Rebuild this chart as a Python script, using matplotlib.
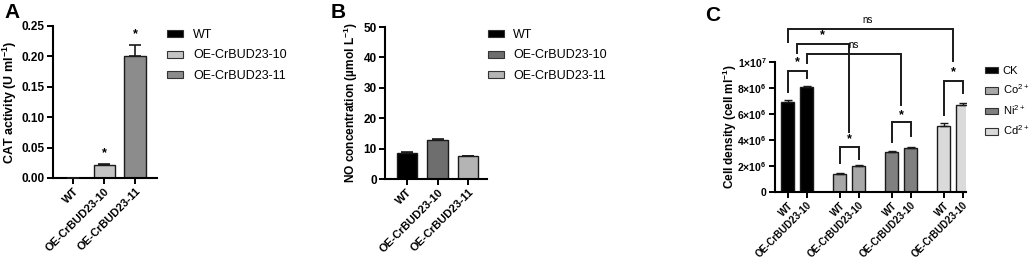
import matplotlib
matplotlib.use("Agg")
import matplotlib.pyplot as plt
import numpy as np
from matplotlib.patches import Patch

plt.rcParams['font.family'] = ['Liberation Sans', 'DejaVu Sans']
plt.rcParams['mathtext.default'] = 'regular'

W, H = 1031, 260

# ---------------- data ----------------
a_labels = ["WT", "OE-CrBUD23-10", "OE-CrBUD23-11"]
a_values = [0.0, 0.021, 0.200]
a_errors = [0.0, 0.0015, 0.018]
a_sig = ["", "*", "*"]

b_labels = ["WT", "OE-CrBUD23-10", "OE-CrBUD23-11"]
b_values = [8.5, 12.8, 7.5]
b_errors = [0.3, 0.3, 0.2]

c_groups = ["CK", "Co$^{2+}$", "Ni$^{2+}$", "Cd$^{2+}$"]
c_lines = ["WT", "OE-CrBUD23-10"]
c_wt = [6.95e6, 1.42e6, 3.08e6, 5.1e6]
c_oe = [8.05e6, 2.0e6, 3.38e6, 6.7e6]
c_wt_err = [0.12e6, 0.08e6, 0.07e6, 0.18e6]
c_oe_err = [0.1e6, 0.1e6, 0.08e6, 0.17e6]
c_ytick_labels = ["0", "2×10$^{6}$", "4×10$^{6}$", "6×10$^{6}$", "8×10$^{6}$", "1×10$^{7}$"]

# significance brackets within each group
pair_top = [9.3e6, 3.44e6, 5.38e6, 8.54e6]
pair_leg_wt = [7.7e6, 2.23e6, 3.85e6, 5.92e6]
pair_leg_oe = [8.77e6, 2.54e6, 4.3e6, 7.6e6]
pair_star = [9.95e6, 4.08e6, 5.92e6, 9.23e6]

a_colors = ["#000000", "#c4c4c4", "#8c8c8c"]
b_colors = ["#000000", "#6e6e6e", "#b4b4b4"]
c_colors = ["#000000", "#a8a8a8", "#808080", "#dadada"]

fig = plt.figure(figsize=(W / 100, H / 100), dpi=100)


def add_axes(left, right, top, bottom):
    return fig.add_axes([left / W, 1 - bottom / H, (right - left) / W, (bottom - top) / H])


def style(ax, yfs, xfs):
    for s in ["top", "right"]:
        ax.spines[s].set_visible(False)
    for s in ["left", "bottom"]:
        ax.spines[s].set_linewidth(1.5)
    ax.tick_params(width=1.4, length=4, pad=2)
    ax.tick_params(axis="y", labelsize=yfs)
    ax.tick_params(axis="x", labelsize=xfs)
    for lab in ax.get_yticklabels() + ax.get_xticklabels():
        lab.set_fontweight("bold")


def legend(ax, colors, labels, x, y, fs, spacing, hl, hh, tp):
    handles = [Patch(facecolor=c, edgecolor="#333333", linewidth=0.8) for c in colors]
    ax.legend(handles, labels, loc="upper left", bbox_to_anchor=(x / W, 1 - y / H),
              bbox_transform=fig.transFigure, frameon=False, fontsize=fs,
              handlelength=hl, handleheight=hh, handletextpad=tp,
              labelspacing=spacing, borderaxespad=0, borderpad=0)


bw = 0.68

# ---------------- Panel A ----------------
axA = add_axes(53, 157, 26, 178)
xa = np.arange(len(a_values))
axA.bar(xa, a_values, width=bw, color=a_colors, edgecolor="#1a1a1a", linewidth=1.0, zorder=2)
axA.errorbar(xa, a_values, yerr=[np.zeros(3), a_errors], fmt="none", ecolor="#1a1a1a",
             elinewidth=1.2, capsize=4.5, capthick=1.2, zorder=3)
for xi, v, e, s in zip(xa, a_values, a_errors, a_sig):
    if s:
        axA.text(xi, v + e + 0.008, s, ha="center", va="bottom", fontsize=9, fontweight="bold")
axA.set_xlim(-0.65, 2.71)
axA.set_ylim(0, 0.25)
axA.set_yticks([0, 0.05, 0.10, 0.15, 0.20, 0.25])
axA.set_yticklabels(["0.00", "0.05", "0.10", "0.15", "0.20", "0.25"])
axA.set_xticks(xa)
axA.set_xticklabels(a_labels, rotation=45, ha="right", rotation_mode="anchor")
axA.set_ylabel("CAT activity (U ml$^{-1}$)", fontsize=9, fontweight="bold")
axA.yaxis.set_label_coords((19 - 53) / 104, 0.5)
style(axA, 8.5, 8)
legend(axA, a_colors, a_labels, 167, 29, 9, 0.68, 1.28, 0.48, 0.8)
fig.text(4 / W, 1 - 3 / H, "A", fontsize=15, fontweight="bold", va="top", ha="left")

# ---------------- Panel B ----------------
axB = add_axes(385, 487, 27, 179)
xb = np.arange(len(b_values))
axB.bar(xb, b_values, width=bw, color=b_colors, edgecolor="#1a1a1a", linewidth=1.0, zorder=2)
axB.errorbar(xb, b_values, yerr=[np.zeros(3), b_errors], fmt="none", ecolor="#1a1a1a",
             elinewidth=1.2, capsize=4.5, capthick=1.2, zorder=3)
axB.set_xlim(-0.72, 2.62)
axB.set_ylim(0, 50)
axB.set_yticks([0, 10, 20, 30, 40, 50])
axB.set_xticks(xb)
axB.set_xticklabels(b_labels, rotation=45, ha="right", rotation_mode="anchor")
axB.set_ylabel("NO concentration (µmol L$^{-1}$)", fontsize=8.6, fontweight="bold")
axB.yaxis.set_label_coords((360 - 385) / 102, 0.5)
style(axB, 8.5, 8)
legend(axB, b_colors, b_labels, 488, 29, 9, 0.68, 1.28, 0.48, 0.75)
fig.text(331 / W, 1 - 3 / H, "B", fontsize=15, fontweight="bold", va="top", ha="left")

# ---------------- Panel C ----------------
axC = add_axes(775, 966, 62, 192)
gpos = np.arange(len(c_groups)) * 2.75
xw = gpos
xo = gpos + 1
mid = (xw + xo) / 2
for g in range(len(c_groups)):
    axC.bar([xw[g], xo[g]], [c_wt[g], c_oe[g]], width=bw, color=c_colors[g],
            edgecolor="#1a1a1a", linewidth=1.0, zorder=2)
axC.errorbar(xw, c_wt, yerr=[np.zeros(4), c_wt_err], fmt="none", ecolor="#1a1a1a",
             elinewidth=1.0, capsize=3, capthick=1.0, zorder=3)
axC.errorbar(xo, c_oe, yerr=[np.zeros(4), c_oe_err], fmt="none", ecolor="#1a1a1a",
             elinewidth=1.0, capsize=3, capthick=1.0, zorder=3)
axC.set_xlim(-0.68, 9.42)
axC.set_ylim(0, 1e7)
axC.set_yticks(np.arange(0, 1.01e7, 2e6))
axC.set_yticklabels(c_ytick_labels)
ticks = np.ravel(np.column_stack([xw, xo]))
axC.set_xticks(ticks)
axC.set_xticklabels(c_lines * len(c_groups), rotation=45, ha="right", rotation_mode="anchor")
axC.set_ylabel("Cell density (cell ml$^{-1}$)", fontsize=8.5, fontweight="bold")
axC.yaxis.set_label_coords((739 - 775) / 191, 0.5)
style(axC, 7.5, 7)


def bracket(ax, x1, x2, y, y1, y2, label, lx, ly, fs=9):
    ax.plot([x1, x1, x2, x2], [y1, y, y, y2], color="#1a1a1a", lw=1.4, clip_on=False,
            solid_joinstyle="miter")
    ax.text(lx, ly, label, ha="center", va="center", fontsize=fs,
            fontweight="bold" if label == "*" else "normal", clip_on=False)


for g in range(4):
    bracket(axC, xw[g], xo[g], pair_top[g], pair_leg_wt[g], pair_leg_oe[g], "*",
            mid[g], pair_star[g])

# long comparison brackets
bracket(axC, xw[0], mid[3], 1.254e7, 1.154e7, 1.008e7, "ns", 4.24, 1.323e7, fs=7)
bracket(axC, mid[0], mid[1], 1.14e7, 1.07e7, 4.6e6, "*", 1.81, 1.208e7)
bracket(axC, xo[0], mid[2], 1.06e7, 9.95e6, 6.69e6, "ns", 3.5, 1.131e7, fs=7)

legend(axC, c_colors, c_groups, 985, 66, 8, 0.6, 1.15, 0.55, 0.45)
fig.text(705 / W, 1 - 6 / H, "C", fontsize=15, fontweight="bold", va="top", ha="left")

fig.savefig("out.png", dpi=100)
